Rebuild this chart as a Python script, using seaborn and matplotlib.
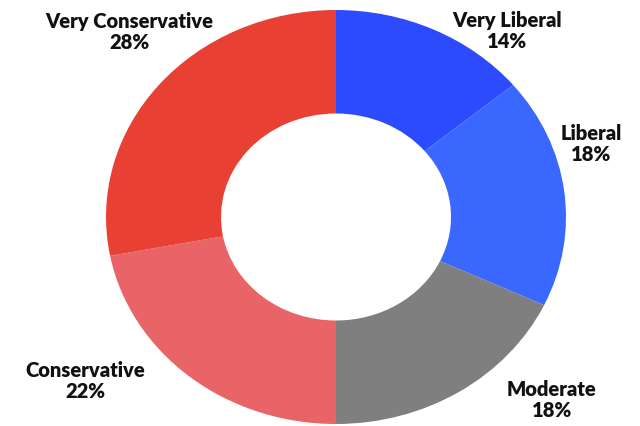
import matplotlib
matplotlib.use("Agg")
import matplotlib.pyplot as plt
import seaborn as sns

# Ideology breakdown, clockwise from the top
categories = ["Very Liberal", "Liberal", "Moderate", "Conservative", "Very Conservative"]
shares = [14, 18, 18, 22, 28]
colors = ["#2B4BFD", "#3A68FF", "#7F7F7F", "#E86466", "#E84134"]

sns.set_theme(style="white")
plt.rcParams["font.family"] = ["Lato", "DejaVu Sans"]

W, H = 640, 427
fig = plt.figure(figsize=(W / 100, H / 100), dpi=100)
ax = fig.add_axes([0, 0, 1, 1])

ax.pie(shares, colors=colors, startangle=90, counterclock=False,
       radius=1.0, wedgeprops=dict(width=0.5, edgecolor="none", linewidth=0))

# stretch the ring slightly wider than tall
cx, cy = 336, 209          # centre in pixels (from bottom-left)
rx, ry = 230, 207          # horizontal / vertical radius in pixels
ax.set_aspect("auto")
ax.set_xlim(-cx / rx, (W - cx) / rx)
ax.set_ylim(-cy / ry, (H - cy) / ry)
ax.axis("off")

# label blocks (pixel centres, measured from the top-left)
label_pos = {
    "Very Liberal": (507, 31),
    "Liberal": (591, 144),
    "Moderate": (552, 400),
    "Conservative": (85, 381),
    "Very Conservative": (129, 32),
}
for name, val in zip(categories, shares):
    px, py = label_pos[name]
    fig.text(px / W, 1 - py / H, f"{name}\n{val}%", ha="center", va="center",
             fontsize=14.5, fontweight="heavy", color="#111111", linespacing=1.12)

fig.savefig("out.png", dpi=100, facecolor="white")
